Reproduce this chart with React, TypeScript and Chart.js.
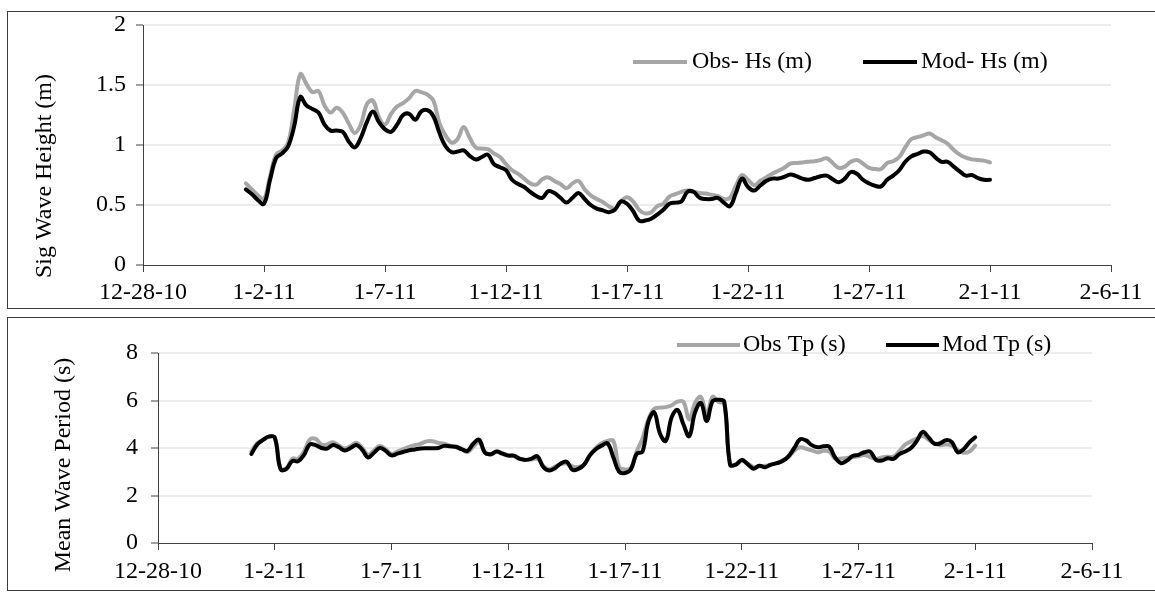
import React, { useEffect, useRef } from "react";
import { Chart, registerables } from "chart.js";

Chart.register(...registerables);

// x axis: days after 12-28-10
const X_TICK_LABELS = ["12-28-10", "1-2-11", "1-7-11", "1-12-11", "1-17-11", "1-22-11", "1-27-11", "2-1-11", "2-6-11"];
const HS_START_DAY = 4.25; // 1-1-11 06:00
const TP_START_DAY = 4; // 1-1-11 00:00
const STEP_DAYS = 0.25; // 6-hourly

const OBS_HS = [
  0.68, 0.63, 0.58, 0.55, 0.74, 0.92, 0.955, 1.02, 1.30, 1.59, 1.51, 1.44, 1.45, 1.33, 1.27, 1.31,
  1.27, 1.18, 1.10, 1.17, 1.34, 1.37, 1.23, 1.17, 1.26, 1.32, 1.35, 1.39, 1.45, 1.44, 1.42, 1.37,
  1.18, 1.08, 1.02, 1.05, 1.15, 1.06, 0.98, 0.97, 0.965, 0.93, 0.90, 0.84, 0.79, 0.76, 0.72, 0.68,
  0.67, 0.715, 0.73, 0.70, 0.675, 0.64, 0.68, 0.70, 0.63, 0.58, 0.55, 0.525, 0.49, 0.47, 0.53, 0.565,
  0.53, 0.46, 0.43, 0.44, 0.49, 0.51, 0.57, 0.59, 0.61, 0.62, 0.61, 0.60, 0.595, 0.585, 0.575, 0.55,
  0.56, 0.66, 0.75, 0.71, 0.665, 0.70, 0.73, 0.76, 0.785, 0.81, 0.845, 0.85, 0.855, 0.86, 0.865, 0.875,
  0.89, 0.85, 0.81, 0.82, 0.86, 0.875, 0.845, 0.81, 0.80, 0.80, 0.85, 0.865, 0.90, 0.98, 1.05, 1.065,
  1.08, 1.095, 1.065, 1.04, 1.01, 0.96, 0.92, 0.895, 0.88, 0.875, 0.87, 0.855,
];
const MOD_HS = [
  0.63, 0.59, 0.54, 0.51, 0.71, 0.89, 0.93, 0.99, 1.16, 1.40, 1.33, 1.30, 1.27, 1.17, 1.12, 1.12,
  1.11, 1.03, 0.98, 1.06, 1.19, 1.28, 1.19, 1.13, 1.11, 1.17, 1.25, 1.26, 1.21, 1.28, 1.29, 1.24,
  1.10, 0.99, 0.94, 0.945, 0.955, 0.91, 0.88, 0.90, 0.92, 0.84, 0.815, 0.79, 0.71, 0.675, 0.65, 0.61,
  0.575, 0.56, 0.615, 0.60, 0.56, 0.52, 0.56, 0.60, 0.55, 0.50, 0.47, 0.455, 0.44, 0.46, 0.53, 0.51,
  0.45, 0.37, 0.37, 0.385, 0.42, 0.46, 0.51, 0.52, 0.53, 0.61, 0.61, 0.56, 0.55, 0.55, 0.56, 0.52,
  0.49, 0.60, 0.72, 0.65, 0.62, 0.66, 0.70, 0.72, 0.72, 0.735, 0.755, 0.74, 0.72, 0.71, 0.725, 0.74,
  0.745, 0.715, 0.69, 0.72, 0.775, 0.76, 0.71, 0.68, 0.66, 0.655, 0.71, 0.745, 0.79, 0.86, 0.905, 0.925,
  0.945, 0.94, 0.895, 0.86, 0.86, 0.82, 0.78, 0.745, 0.75, 0.725, 0.71, 0.71,
];
const OBS_TP = [
  3.85, 4.2, 4.35, 4.48, 4.44, 3.15, 3.15, 3.55, 3.55, 3.85, 4.35, 4.38, 4.15, 4.15, 4.24, 4.1,
  3.98, 4.08, 4.22, 4.0, 3.72, 3.9, 4.08, 3.95, 3.75, 3.85, 3.95, 4.05, 4.12, 4.18, 4.28, 4.28,
  4.22, 4.18, 4.1, 4.05, 3.98, 3.82, 4.05, 4.25, 3.85, 3.72, 3.85, 3.78, 3.70, 3.65, 3.55, 3.50,
  3.52, 3.55, 3.25, 3.1, 3.22, 3.32, 3.35, 3.22, 3.2, 3.3, 3.7, 4.0, 4.2, 4.3, 4.3, 3.2,
  3.1, 3.15, 3.85, 4.4, 5.2, 5.65, 5.7, 5.72, 5.8, 5.95, 5.95, 5.2, 5.9, 6.15, 5.4, 6.15,
  5.95, 5.85, 3.3, 3.3, 3.45, 3.35, 3.2, 3.23, 3.25, 3.3, 3.35, 3.48, 3.62, 3.89, 4.03, 3.97,
  3.9, 3.82, 3.88, 3.85, 3.55, 3.56, 3.58, 3.62, 3.65, 3.7, 3.62, 3.54, 3.6, 3.63, 3.64, 3.87,
  4.15, 4.28, 4.4, 4.5, 4.35, 4.2, 4.12, 4.15, 4.1, 3.92, 3.8, 3.85, 4.1,
];
const MOD_TP = [
  3.75, 4.15, 4.34, 4.48, 4.44, 3.1, 3.12, 3.45, 3.44, 3.70, 4.15, 4.12, 4.0, 3.98, 4.13, 4.03,
  3.89, 4.0, 4.13, 3.92, 3.6, 3.8, 4.0, 3.88, 3.69, 3.76, 3.83, 3.90, 3.94, 3.98, 3.99, 3.99,
  4.0, 4.09, 4.07, 4.05, 3.95, 3.88, 4.18, 4.35, 3.80, 3.74, 3.85, 3.76, 3.68, 3.68, 3.54, 3.50,
  3.55, 3.65, 3.2, 3.05, 3.15, 3.35, 3.42, 3.08, 3.12, 3.3, 3.7, 3.95, 4.10, 4.2, 3.61, 3.0,
  2.95, 3.1, 3.75, 3.85, 5.1, 5.5, 4.6, 4.3, 5.3, 5.6, 5.0, 4.5, 5.5, 5.9, 5.14, 5.97,
  6.03, 5.95, 3.3, 3.3, 3.5, 3.32, 3.13, 3.25, 3.19, 3.30, 3.36, 3.45, 3.65, 4.0, 4.37, 4.32,
  4.12, 4.03, 4.07, 4.05, 3.6, 3.36, 3.47, 3.66, 3.71, 3.82, 3.85, 3.5, 3.47, 3.57, 3.54, 3.74,
  3.85, 4.0, 4.3, 4.68, 4.45, 4.18, 4.2, 4.33, 4.25, 3.82, 3.95, 4.24, 4.45,
];

const FONT = '"Liberation Serif", "Times New Roman", serif';
const OBS_COLOR = "#a6a6a6";
const MOD_COLOR = "#000000";
const AXIS_COLOR = "#404040";
const GRID_COLOR = "#ededed";

const toPoints = (vals: number[], start: number) =>
  vals.map((y, i) => ({ x: start + i * STEP_DAYS, y }));

const overlayPlugin = {
  id: "overlay",
  afterDraw(chart: any, _args: any, opts: any) {
    const ctx = chart.ctx as CanvasRenderingContext2D;
    ctx.save();
    ctx.font = `24px ${FONT}`;
    ctx.fillStyle = "#000";
    const t = opts.yTitle;
    if (t) {
      ctx.save();
      ctx.translate(t.x, t.y);
      ctx.rotate(-Math.PI / 2);
      ctx.textAlign = "center";
      ctx.textBaseline = "middle";
      ctx.fillText(t.text, 0, 0);
      ctx.restore();
    }
    for (const it of opts.legend || []) {
      ctx.strokeStyle = it.color;
      ctx.lineWidth = 4;
      ctx.lineCap = "butt";
      ctx.beginPath();
      ctx.moveTo(it.x1, it.y);
      ctx.lineTo(it.x2, it.y);
      ctx.stroke();
      ctx.textAlign = "left";
      ctx.textBaseline = "middle";
      ctx.fillText(it.text, it.tx, it.y);
    }
    ctx.restore();
  },
};

function makeConfig(p: any) {
  const lineDs = (label: string, data: any, color: string, order: number) => ({
    label,
    data,
    borderColor: color,
    backgroundColor: color,
    borderWidth: 4,
    pointRadius: 0,
    tension: 0.4,
    fill: false,
    order,
    borderJoinStyle: "round",
    borderCapStyle: "round",
  });
  return {
    type: "line",
    data: {
      datasets: [
        lineDs(p.obsLabel, p.obs, OBS_COLOR, 1),
        lineDs(p.modLabel, p.mod, MOD_COLOR, 0),
      ],
    },
    options: {
      animation: false,
      responsive: false,
      devicePixelRatio: 1,
      events: [],
      layout: { padding: { left: 0, top: p.padTop, right: p.padRight, bottom: 0 } },
      plugins: {
        legend: { display: false },
        tooltip: { enabled: false },
        title: { display: false },
        overlay: { yTitle: p.yTitle, legend: p.legend },
      },
      scales: {
        x: {
          type: "linear",
          min: 0,
          max: 40,
          afterFit: (s: any) => {
            s.height = p.xAxisH;
          },
          ticks: {
            stepSize: 5,
            autoSkip: false,
            maxRotation: 0,
            minRotation: 0,
            padding: p.xPad,
            color: "#000",
            font: { family: FONT, size: 24 },
            callback: (v: number) => X_TICK_LABELS[Math.round(v / 5)] ?? "",
          },
          grid: {
            drawOnChartArea: false,
            drawTicks: true,
            tickLength: 7,
            tickColor: AXIS_COLOR,
            tickWidth: 1,
          },
          border: { display: true, color: AXIS_COLOR, width: 1 },
        },
        y: {
          type: "linear",
          min: 0,
          max: p.yMax,
          afterFit: (s: any) => {
            s.width = p.yAxisW;
          },
          ticks: {
            stepSize: p.yStep,
            padding: p.yPad,
            color: "#000",
            font: { family: FONT, size: 24 },
            callback: (v: number) => `${v}`,
          },
          grid: {
            color: (c: any) => (c.tick && c.tick.value === 0 ? "rgba(0,0,0,0)" : GRID_COLOR),
            lineWidth: 2,
            drawTicks: true,
            tickLength: 7,
            tickColor: AXIS_COLOR,
            tickWidth: 1,
          },
          border: { display: true, color: AXIS_COLOR, width: 1 },
        },
      },
    },
    plugins: [overlayPlugin],
  };
}

function ChartCanvas({ cfg, style }: { cfg: any; style: React.CSSProperties }) {
  const ref = useRef<HTMLCanvasElement | null>(null);
  useEffect(() => {
    if (!ref.current) return;
    const chart = new Chart(ref.current, cfg);
    return () => chart.destroy();
  }, [cfg]);
  return (
    <canvas
      ref={ref}
      width={style.width as number}
      height={style.height as number}
      style={{ position: "absolute", display: "block", ...style }}
    />
  );
}

const hsConfig = makeConfig({
  obsLabel: "Obs- Hs (m)",
  modLabel: "Mod- Hs (m)",
  obs: toPoints(OBS_HS, HS_START_DAY),
  mod: toPoints(MOD_HS, HS_START_DAY),
  yMax: 2,
  yStep: 0.5,
  padTop: 25,
  padRight: 44,
  xAxisH: 43,
  yAxisW: 135,
  xPad: 6,
  yPad: 10,
  yTitle: { text: "Sig Wave Height (m)", x: 37, y: 176 },
  legend: [
    { color: OBS_COLOR, x1: 625, x2: 679, y: 62, text: "Obs- Hs (m)", tx: 684 },
    { color: MOD_COLOR, x1: 855, x2: 909, y: 62, text: "Mod- Hs (m)", tx: 913 },
  ],
});

const tpConfig = makeConfig({
  obsLabel: "Obs Tp (s)",
  modLabel: "Mod Tp (s)",
  obs: toPoints(OBS_TP, TP_START_DAY),
  mod: toPoints(MOD_TP, TP_START_DAY),
  yMax: 8,
  yStep: 2,
  padTop: 35,
  padRight: 63,
  xAxisH: 46,
  yAxisW: 150,
  xPad: 7,
  yPad: 13,
  yTitle: { text: "Mean Wave Period (s)", x: 56, y: 147 },
  legend: [
    { color: OBS_COLOR, x1: 669, x2: 732, y: 27, text: "Obs Tp (s)", tx: 735 },
    { color: MOD_COLOR, x1: 878, x2: 931, y: 27, text: "Mod Tp (s)", tx: 934 },
  ],
});

export default function App() {
  const frame: React.CSSProperties = {
    position: "absolute",
    boxSizing: "border-box",
    border: "1px solid #3a3a3a",
    background: "#fff",
  };
  return (
    <div style={{ position: "relative", width: 1155, height: 592, overflow: "hidden", background: "#fff" }}>
      <style>{"html,body{margin:0;padding:0;overflow:hidden;background:#fff}"}</style>
      <div style={{ ...frame, left: 7, top: 11, width: 1160, height: 298 }} />
      <div style={{ ...frame, left: 7, top: 317, width: 1160, height: 274 }} />
      <ChartCanvas cfg={hsConfig} style={{ left: 8, top: 0, width: 1147, height: 308 }} />
      <ChartCanvas cfg={tpConfig} style={{ left: 8, top: 318, width: 1147, height: 271 }} />
    </div>
  );
}
